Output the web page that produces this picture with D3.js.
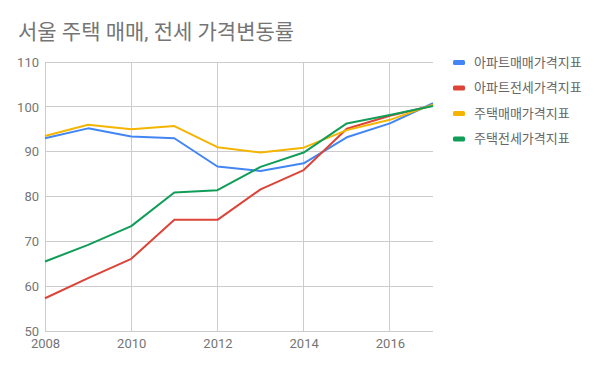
<!DOCTYPE html>
<html>
<head>
<meta charset="utf-8">
<script src="https://cdn.jsdelivr.net/npm/d3@7"></script>
<style>
  body { margin: 0; background: #fff; }
  svg { display: block; font-family: Roboto, "Noto Sans CJK KR", sans-serif; }
</style>
</head>
<body>
<script>
// years and the four index series
var years = [2008, 2009, 2010, 2011, 2012, 2013, 2014, 2015, 2016, 2017];
var aptSale = [93.0, 95.2, 93.4, 93.0, 86.7, 85.7, 87.4, 93.2, 96.3, 100.8];
var aptJeonse = [57.3, 61.8, 66.1, 74.8, 74.8, 81.6, 85.9, 95.1, 98.0, 100.3];
var houseSale = [93.5, 96.0, 95.0, 95.7, 91.0, 89.8, 90.9, 94.8, 97.1, 100.5];
var houseJeonse = [65.5, 69.2, 73.4, 80.9, 81.4, 86.6, 89.8, 96.3, 98.2, 100.2];
var seriesNames = ["아파트매매가격지표", "아파트전세가격지표", "주택매매가격지표", "주택전세가격지표"];
var colors = ["#4285f4", "#db4437", "#f4b400", "#0f9d58"];
var yTicks = [50, 60, 70, 80, 90, 100, 110];
var xTicks = [2008, 2010, 2012, 2014, 2016];

var W = 600, H = 371;
var svg = d3.select("body").append("svg").attr("width", W).attr("height", H);

var x = d3.scaleLinear().domain([2008, 2017]).range([45, 433]);
var y = d3.scaleLinear().domain([50, 110]).range([331, 62]);

// title
svg.append("text")
  .attr("x", 18).attr("y", 39)
  .attr("fill", "#757575")
  .style("font-size", "21px")
  .text("서울 주택 매매, 전세 가격변동률");

// gridlines
svg.append("g").selectAll("line").data(yTicks).enter().append("line")
  .attr("x1", x(2008)).attr("x2", x(2017))
  .attr("y1", function(d){ return y(d); }).attr("y2", function(d){ return y(d); })
  .attr("stroke", "#cccccc").attr("stroke-width", 1).attr("shape-rendering", "crispEdges");
svg.append("g").selectAll("line").data(xTicks).enter().append("line")
  .attr("x1", function(d){ return x(d); }).attr("x2", function(d){ return x(d); })
  .attr("y1", y(110)).attr("y2", y(50))
  .attr("stroke", "#cccccc").attr("stroke-width", 1).attr("shape-rendering", "crispEdges");

// axis labels
var yAxis = d3.axisLeft(y).tickValues(yTicks).tickSize(0).tickPadding(6);
var gy = svg.append("g").attr("transform", "translate(" + x(2008) + ",0)").call(yAxis);
var xAxis = d3.axisBottom(x).tickValues(xTicks).tickSize(0).tickPadding(8).tickFormat(d3.format("d"));
var gx = svg.append("g").attr("transform", "translate(0," + y(50) + ")").call(xAxis);
[gx, gy].forEach(function(g){
  g.select(".domain").remove();
  g.selectAll("text").attr("fill", "#757575").style("font-size", "13px")
    .style("font-family", "Roboto, sans-serif");
});

// lines
var allSeries = [aptSale, aptJeonse, houseSale, houseJeonse];
var line = d3.line()
  .x(function(d, i){ return x(years[i]); })
  .y(function(d){ return y(d); });
svg.append("g").selectAll("path").data(allSeries).enter().append("path")
  .attr("d", line)
  .attr("fill", "none")
  .attr("stroke", function(d, i){ return colors[i]; })
  .attr("stroke-width", 2)
  .attr("stroke-linejoin", "round");

// legend
var leg = svg.append("g").selectAll("g").data(seriesNames).enter().append("g")
  .attr("transform", function(d, i){ return "translate(453," + (62 + i * 25.5) + ")"; });
leg.append("rect")
  .attr("x", 0).attr("y", -2).attr("width", 12).attr("height", 5).attr("rx", 1.5)
  .attr("fill", function(d, i){ return colors[i]; });
leg.append("text")
  .attr("x", 21).attr("y", 0).attr("dy", "0.35em")
  .attr("fill", "#666666")
  .style("font-size", "13px")
  .text(function(d){ return d; });
</script>
</body>
</html>
